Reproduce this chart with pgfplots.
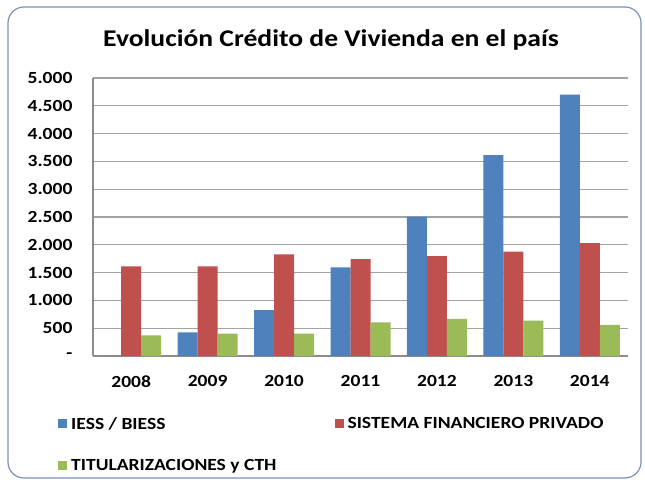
\documentclass[border=0pt]{standalone}
\usepackage{pgfplots}
\pgfplotsset{compat=1.18}
\usepackage{fontspec}
\setmainfont{Carlito}[FakeStretch=1.15]
\definecolor{serieA}{HTML}{4F81BD}
\definecolor{serieB}{HTML}{C0504D}
\definecolor{serieC}{HTML}{9BBB59}
\definecolor{marco}{HTML}{7A93B8}
\definecolor{rejilla}{HTML}{8C8C8C}
\begin{document}
\begin{tikzpicture}[x=1pt,y=1pt]
\fill[white] (0,0) rectangle (645,482);
\draw[marco, line width=1.2pt, rounded corners=16pt] (8,4) rectangle (641,475);
\node[font=\fontsize{24}{28}\selectfont\bfseries] at (331,442) {Evolución Crédito de Vivienda en el país};
\begin{axis}[
  at={(93pt,126pt)}, anchor=south west,
  scale only axis, width=535pt, height=278pt,
  ybar=0pt, bar width=20pt,
  legend image code/.code={\fill[#1,draw=none] (0pt,-4.5pt) rectangle (9pt,4.5pt);},
  ymin=0, ymax=5000, xmin=-0.5, xmax=6.5,
  enlargelimits=false,
  xtick={0,...,6},
  xticklabels={2008,2009,2010,2011,2012,2013,2014},
  ytick={0,500,...,5000},
  yticklabels={-,500,1.000,1.500,2.000,2.500,3.000,3.500,4.000,4.500,5.000},
  /pgf/number format/assume math mode=true,
  ticklabel style={font=\fontsize{17}{20}\selectfont\bfseries},
  xticklabel style={yshift=-16pt},
  yticklabel style={xshift=-17pt},
  major tick length=0pt,
  axis lines*=left,
  axis line style={rejilla, line width=1.3pt},
  ymajorgrids=true,
  grid style={rejilla!80, line width=1.3pt},
  legend columns=2,
  legend cell align=left,
  legend style={at={(-0.071,-0.205)}, anchor=north west, draw=none, fill=none,
    font=\fontsize{17}{20}\selectfont\bfseries, row sep=25pt,
    /tikz/every odd column/.append style={column sep=2pt},
    /tikz/every even column/.append style={column sep=56pt}},
]
\addplot[fill=serieA, draw=none] coordinates {(0,0) (1,427) (2,824) (3,1594) (4,2506) (5,3613) (6,4700)};
\addplot[fill=serieB, draw=none] coordinates {(0,1612) (1,1612) (2,1828) (3,1743) (4,1797) (5,1875) (6,2032)};
\addplot[fill=serieC, draw=none] coordinates {(0,373) (1,403) (2,403) (3,607) (4,667) (5,638) (6,559)};
\legend{IESS / BIESS, SISTEMA FINANCIERO PRIVADO, TITULARIZACIONES y CTH}
\end{axis}
\end{tikzpicture}
\end{document}
